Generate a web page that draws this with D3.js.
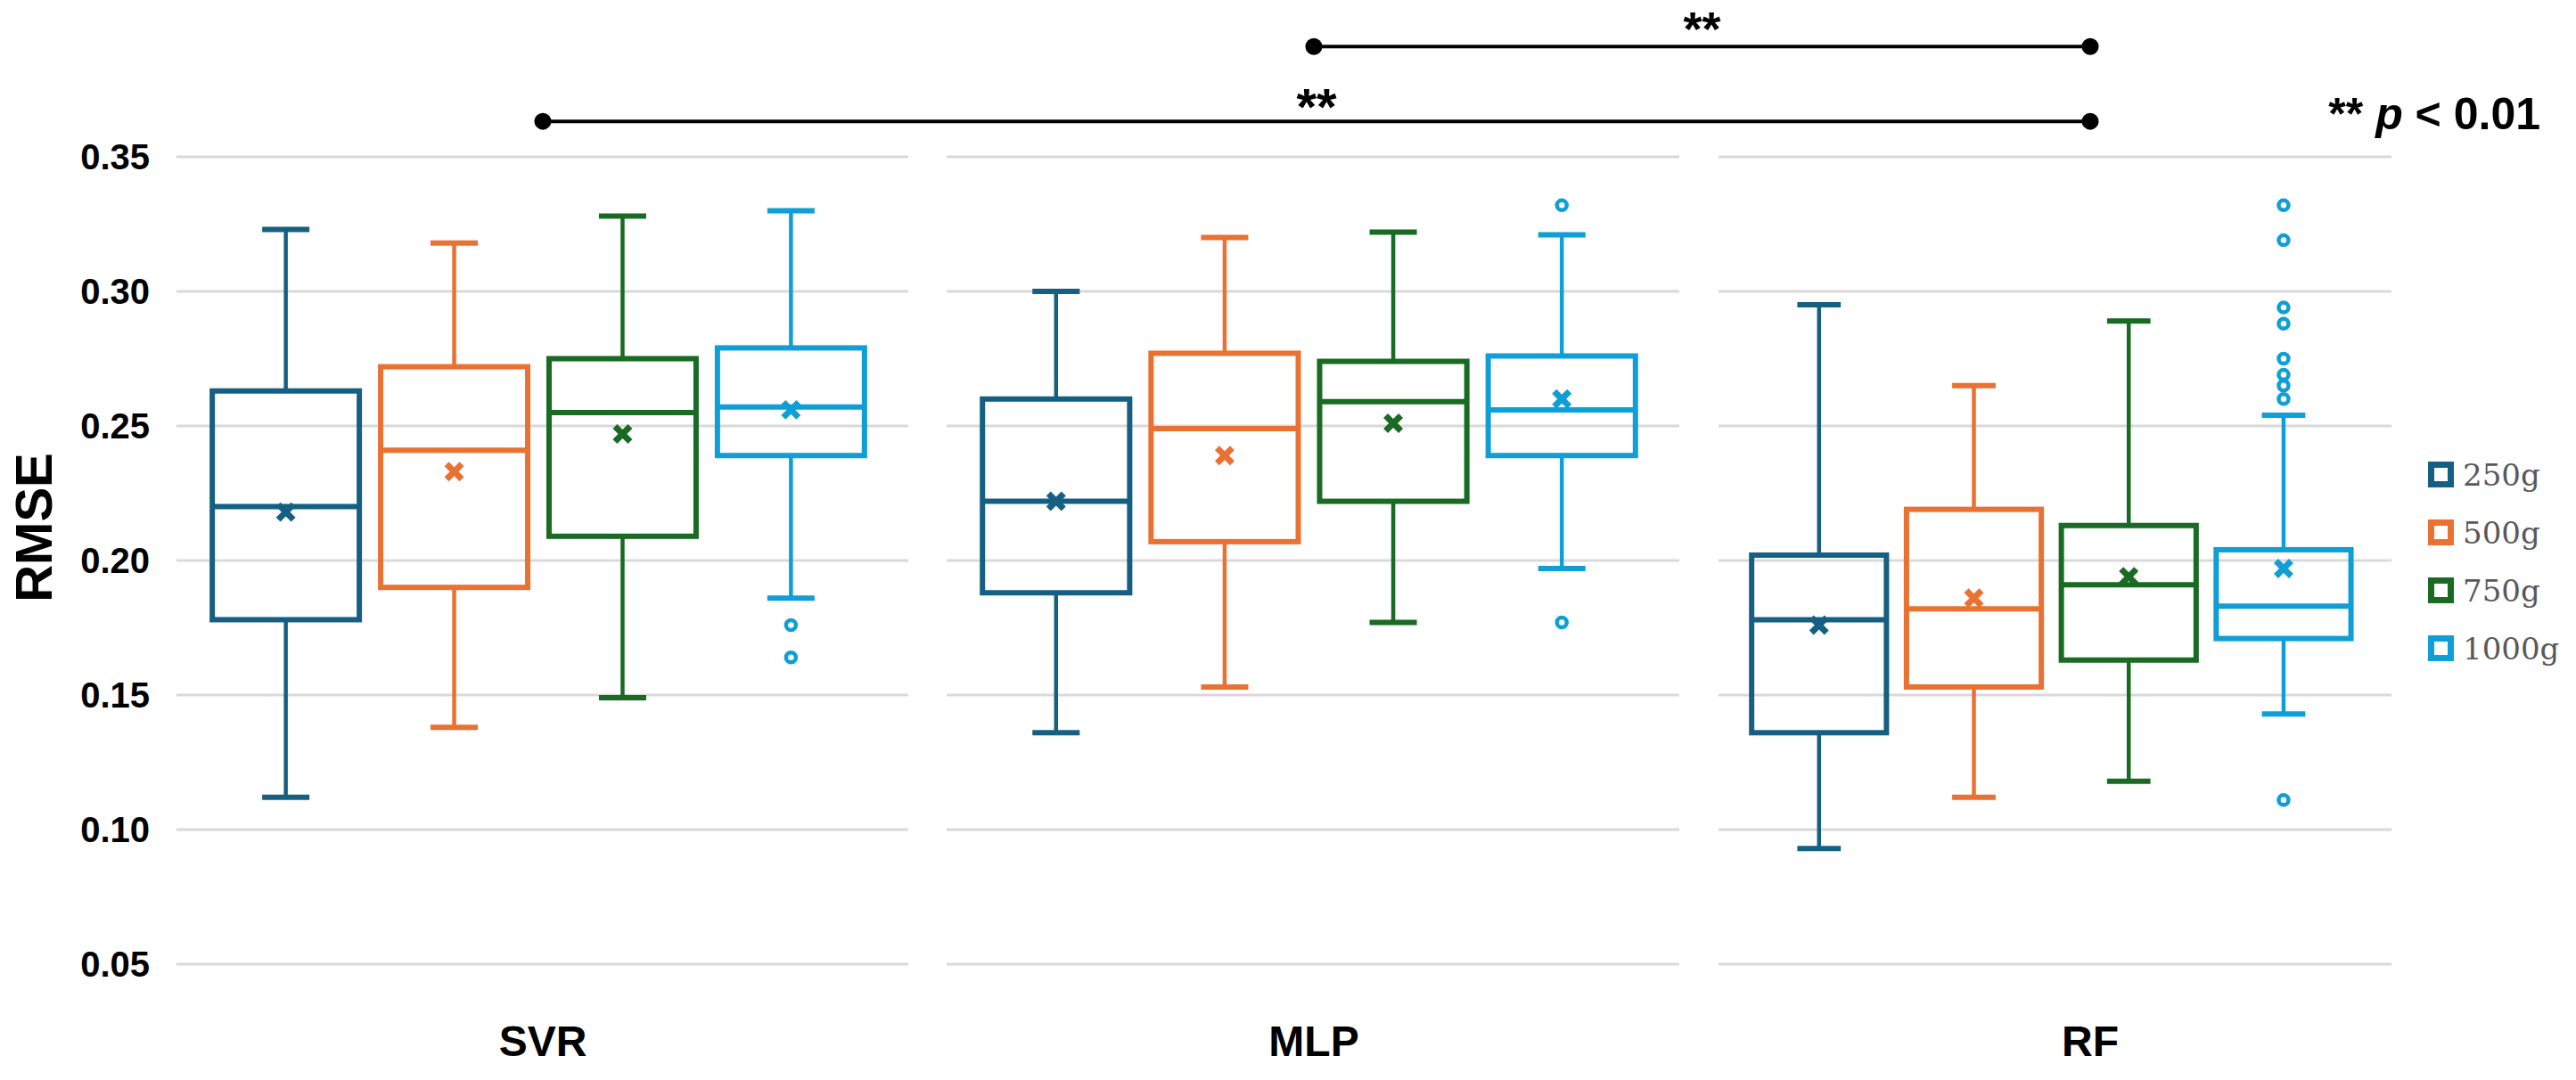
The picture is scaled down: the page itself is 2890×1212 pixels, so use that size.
<!DOCTYPE html>
<html><head><meta charset="utf-8">
<script src="https://cdn.jsdelivr.net/npm/d3@7"></script>
<style>html,body{margin:0;padding:0;background:#fff;} svg{display:block;font-family:"Liberation Sans",Arial,sans-serif;}</style>
</head><body><svg id="c" width="2890" height="1212"></svg>
<script>
// ---------------- DATA ----------------
const categories = ["SVR", "MLP", "RF"];
const series = ["250g", "500g", "750g", "1000g"];
const colors = ["#156082", "#E97132", "#196B24", "#0F9ED5"];
const yTicks = [0.05, 0.10, 0.15, 0.20, 0.25, 0.30, 0.35];
// rows = categories, columns = series
const whiskerLow  = [[0.112, 0.138, 0.149, 0.186], [0.136, 0.153, 0.177, 0.197], [0.093, 0.112, 0.118, 0.143]];
const q1          = [[0.178, 0.190, 0.209, 0.239], [0.188, 0.207, 0.222, 0.239], [0.136, 0.153, 0.163, 0.171]];
const median      = [[0.220, 0.241, 0.255, 0.257], [0.222, 0.249, 0.259, 0.256], [0.178, 0.182, 0.191, 0.183]];
const q3          = [[0.263, 0.272, 0.275, 0.279], [0.260, 0.277, 0.274, 0.276], [0.202, 0.219, 0.213, 0.204]];
const whiskerHigh = [[0.323, 0.318, 0.328, 0.330], [0.300, 0.320, 0.322, 0.321], [0.295, 0.265, 0.289, 0.254]];
const means       = [[0.218, 0.233, 0.247, 0.256], [0.222, 0.239, 0.251, 0.260], [0.176, 0.186, 0.194, 0.197]];
const outliers    = [
  [[], [], [], [0.176, 0.164]],
  [[], [], [], [0.332, 0.177]],
  [[], [], [], [0.332, 0.319, 0.294, 0.288, 0.275, 0.269, 0.265, 0.260, 0.111]]
];
// significance brackets
const sigFrom   = ["MLP", "SVR"];
const sigTo     = ["RF", "RF"];
const sigLabel  = ["**", "**"];
const sigLevel  = [0.391, 0.3632];
const noteText  = ["** ", "p", " < 0.01"];

// ---------------- LAYOUT ----------------
const W = 2890, H = 1212;
const panels = [
  {x0: 198, x1: 1019, labelX: 609},
  {x0: 1062, x1: 1884, labelX: 1474},
  {x0: 1928, x1: 2683, labelX: 2345}
];
const svg = d3.select("#c");
svg.append("rect").attr("width", W).attr("height", H).attr("fill", "#fff");

const y = d3.scaleLinear().domain([0.05, 0.35]).range([1082, 176]);

// gridlines per panel
panels.forEach(p => {
  svg.append("g").selectAll("line").data(yTicks).join("line")
    .attr("x1", p.x0).attr("x2", p.x1)
    .attr("y1", d => y(d)).attr("y2", d => y(d))
    .attr("stroke", "#d9d9d9").attr("stroke-width", 3);
});

// y axis labels
const yAxis = d3.axisLeft(y).tickValues(yTicks).tickFormat(d3.format(".2f")).tickSize(0).tickPadding(0);
const gy = svg.append("g").attr("transform", "translate(168,0)").call(yAxis);
gy.select(".domain").remove();
gy.selectAll("text").attr("font-size", 40).attr("font-weight", "bold").attr("fill", "#000")
  .attr("font-family", '"Liberation Sans",Arial,sans-serif').attr("dy", "0.33em");

// y title
svg.append("text").attr("transform", "translate(58,592) rotate(-90)")
  .attr("text-anchor", "middle").attr("font-size", 58).attr("font-weight", "bold").text("RMSE");

// category labels
categories.forEach((c, ci) => {
  svg.append("text").attr("x", panels[ci].labelX).attr("y", 1185)
    .attr("text-anchor", "middle").attr("font-size", 48).attr("font-weight", "bold").text(c);
});

// boxes
categories.forEach((c, ci) => {
  const p = panels[ci];
  const x = d3.scaleBand().domain(series).range([p.x0, p.x1])
    .paddingInner(0.095).paddingOuter(0.2205).align(0.446);
  const bw = x.bandwidth();
  series.forEach((s, si) => {
    const col = colors[si];
    const g = svg.append("g");
    const cx = x(s) + bw / 2;
    const capW = bw * 0.31;
    // whiskers
    g.append("line").attr("x1", cx).attr("x2", cx).attr("y1", y(whiskerHigh[ci][si])).attr("y2", y(q3[ci][si]))
      .attr("stroke", col).attr("stroke-width", 4.5);
    g.append("line").attr("x1", cx).attr("x2", cx).attr("y1", y(q1[ci][si])).attr("y2", y(whiskerLow[ci][si]))
      .attr("stroke", col).attr("stroke-width", 4.5);
    [whiskerHigh[ci][si], whiskerLow[ci][si]].forEach(v => {
      g.append("line").attr("x1", cx - capW / 2).attr("x2", cx + capW / 2).attr("y1", y(v)).attr("y2", y(v))
        .attr("stroke", col).attr("stroke-width", 6);
    });
    // box
    g.append("rect").attr("x", x(s) + 3).attr("width", bw - 6)
      .attr("y", y(q3[ci][si])).attr("height", y(q1[ci][si]) - y(q3[ci][si]))
      .attr("fill", "none").attr("stroke", col).attr("stroke-width", 6);
    // median
    g.append("line").attr("x1", x(s) + 3).attr("x2", x(s) + bw - 3)
      .attr("y1", y(median[ci][si])).attr("y2", y(median[ci][si]))
      .attr("stroke", col).attr("stroke-width", 6);
    // mean marker X
    const h = 8.5;
    const my = y(means[ci][si]);
    g.append("path").attr("d", `M${cx - h},${my - h}L${cx + h},${my + h}M${cx - h},${my + h}L${cx + h},${my - h}`)
      .attr("stroke", col).attr("stroke-width", 7).attr("fill", "none");
    // outliers
    g.selectAll("circle").data(outliers[ci][si]).join("circle")
      .attr("cx", cx).attr("cy", d => y(d)).attr("r", 5.5)
      .attr("fill", "#fff").attr("stroke", col).attr("stroke-width", 4.5);
  });
});

// significance brackets
const catX = c => panels[categories.indexOf(c)].labelX;
sigFrom.forEach((f, i) => {
  const x1 = catX(f), x2 = catX(sigTo[i]), yy = y(sigLevel[i]);
  const g = svg.append("g");
  g.append("line").attr("x1", x1).attr("x2", x2).attr("y1", yy).attr("y2", yy)
    .attr("stroke", "#000").attr("stroke-width", 4);
  g.selectAll("circle").data([x1, x2]).join("circle").attr("cx", d => d).attr("cy", yy).attr("r", 9.5).attr("fill", "#000");
  g.append("text").attr("x", (x1 + x2) / 2).attr("y", yy + (i === 0 ? -1 : 4))
    .attr("text-anchor", "middle").attr("font-size", i === 0 ? 54 : 58).attr("font-weight", "bold").text(sigLabel[i]);
});

// note
const note = svg.append("text").attr("x", 2850).attr("y", 145).attr("text-anchor", "end")
  .attr("font-size", 50).attr("font-weight", "bold");
noteText.forEach((t, i) => {
  note.append("tspan").attr("font-style", i === 1 ? "italic" : "normal").text(t);
});

// legend
const leg = svg.append("g");
series.forEach((s, i) => {
  const cy = 532.5 + i * 65;
  leg.append("rect").attr("x", 2727.5).attr("y", cy - 11).attr("width", 22).attr("height", 22)
    .attr("fill", "#fff").attr("stroke", colors[i]).attr("stroke-width", 7);
  leg.append("text").attr("x", 2763).attr("y", cy + 12.5).attr("font-size", 34)
    .attr("font-family", '"DejaVu Serif",serif').attr("fill", "#595959").text(s);
});
</script></body></html>
